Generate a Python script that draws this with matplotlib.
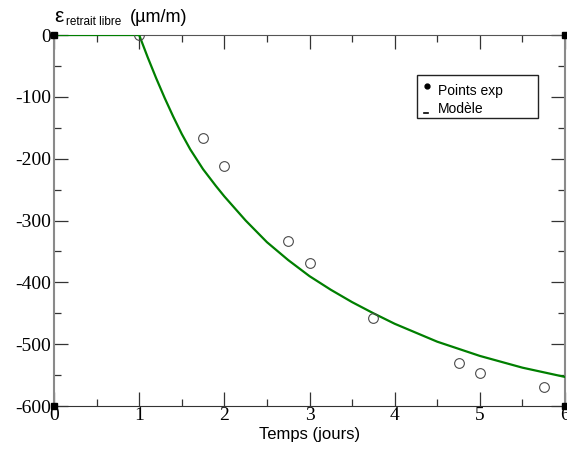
import matplotlib
matplotlib.use("Agg")
import matplotlib.pyplot as plt
from matplotlib.patches import Rectangle
from matplotlib.ticker import MultipleLocator

plt.rcParams["axes.unicode_minus"] = False

# Measured free shrinkage (days, µm/m)
t_exp = [1.0, 1.75, 2.0, 2.75, 3.0, 3.75, 4.75, 5.0, 5.75]
eps_exp = [0, -166, -212, -333, -369, -458, -531, -547, -570]

# Model curve
t_mod = [0.0, 1.0, 1.1, 1.2, 1.3, 1.4, 1.5, 1.6, 1.75, 1.9, 2.0, 2.25, 2.5, 2.75,
         3.0, 3.25, 3.5, 3.75, 4.0, 4.5, 5.0, 5.5, 6.0]
eps_mod = [0, 0, -36, -70, -102, -132, -160, -185, -217, -244, -261, -300, -335,
           -364, -390, -412, -432, -450, -467, -496, -519, -538, -553]

x_ticks = [0, 1, 2, 3, 4, 5, 6]
y_ticks = [0, -100, -200, -300, -400, -500, -600]

legend_labels = ["Points exp", "Modèle"]

W, H = 567, 457
fig = plt.figure(figsize=(W / 100, H / 100), dpi=100)
ax = fig.add_axes([54 / W, 1 - 406 / H, (565 - 54) / W, (406 - 35) / H])

ax.plot(t_mod, eps_mod, color="#007f00", lw=1.6, zorder=3)
ax.plot(t_exp, eps_exp, ls="none", marker="o", ms=7, mfc="none",
        mec="#4a4a4a", mew=0.8, zorder=4)

# corner markers
for cx, cy in [(0, 0), (0, -600), (6, -600), (6, 0)]:
    ax.plot([cx], [cy], marker="s", ms=4.5, color="black", clip_on=False, zorder=5)

ax.set_xlim(0, 6)
ax.set_ylim(-600, 0)
ax.set_xticks(x_ticks)
ax.set_yticks(y_ticks)
ax.xaxis.set_minor_locator(MultipleLocator(0.5))
ax.yaxis.set_minor_locator(MultipleLocator(50))

ax.tick_params(which="both", direction="in", top=True, right=True,
               color="#333333", width=0.9)
ax.tick_params(which="major", length=10)
ax.tick_params(which="minor", length=5)
ax.tick_params(axis="x", pad=1)
ax.tick_params(axis="y", pad=2)

for lab in ax.get_xticklabels() + ax.get_yticklabels():
    lab.set_family("Liberation Serif")
    lab.set_fontsize(14)

ax.spines["left"].set_color("#8a8a8a")
ax.spines["right"].set_color("#8a8a8a")
ax.spines["left"].set_linewidth(1.5)
ax.spines["right"].set_linewidth(1.5)
ax.spines["top"].set_color("#555555")
ax.spines["bottom"].set_color("#333333")

ax.set_xlabel("Temps (jours)", family="Liberation Sans", fontsize=12, labelpad=2)

# axis title: epsilon with subscript, then unit
fig.text(54 / W, 1 - 22 / H, "ε", fontsize=15, ha="left",
         va="baseline", family="Liberation Sans")
fig.text(66 / W, 1 - 25 / H, "retrait libre", fontsize=8.5, ha="left",
         va="baseline", family="Liberation Sans")
fig.text(130 / W, 1 - 22 / H, "(µm/m)", fontsize=13, ha="left",
         va="baseline", family="Liberation Sans")

# legend box
fig.patches.append(Rectangle((417 / W, 1 - 118 / H), (538 - 417) / W, (118 - 75) / H,
                             transform=fig.transFigure, fill=True, facecolor="white",
                             edgecolor="#222222", lw=1.0, zorder=6))
fig.lines.append(plt.Line2D([427 / W], [1 - 86 / H], transform=fig.transFigure,
                            marker="o", ms=3.5, color="black", ls="none", zorder=7))
fig.lines.append(plt.Line2D([424 / W, 427.5 / W], [1 - 113 / H, 1 - 113 / H],
                            transform=fig.transFigure, color="black", lw=1.2, zorder=7))
fig.text(438 / W, 1 - 90.5 / H, legend_labels[0], fontsize=10, ha="left",
         va="center", family="Liberation Sans", zorder=7)
fig.text(438 / W, 1 - 109 / H, legend_labels[1], fontsize=10, ha="left",
         va="center", family="Liberation Sans", zorder=7)

fig.savefig("out.png", dpi=100)
